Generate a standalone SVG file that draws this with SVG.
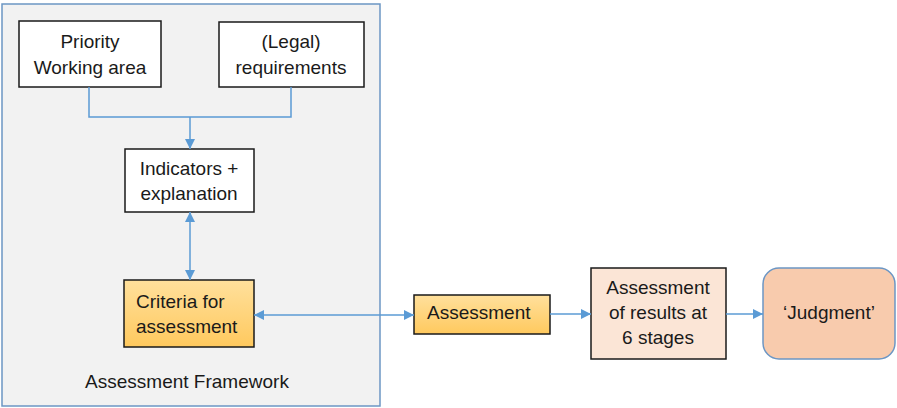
<svg xmlns="http://www.w3.org/2000/svg" width="897" height="408" viewBox="0 0 897 408">
  <style>
    .box { fill: #ffffff; stroke: #1a1a1a; stroke-width: 1.5; }
    .lbl { font-family: "Liberation Sans", Arial, sans-serif; font-size: 19px; fill: #1a1a1a; }
    .mid { text-anchor: middle; }
    .wire { fill: none; stroke: #5b9bd5; stroke-width: 1.5; }
  </style>
  <defs>
    <marker id="arr" viewBox="0 0 10 10" refX="10" refY="5" markerWidth="10" markerHeight="10" markerUnits="userSpaceOnUse" orient="auto-start-reverse">
      <path d="M0,0 L10,5 L0,10 z" fill="#5b9bd5"/>
    </marker>
    <linearGradient id="gold" x1="0" y1="0" x2="0" y2="1">
      <stop offset="0" stop-color="#ffe09c"/>
      <stop offset="1" stop-color="#ffc95e"/>
    </linearGradient>
  </defs>

  <!-- framework container -->
  <g id="framework">
    <rect x="2" y="4" width="378" height="402" fill="#f2f2f2" stroke="#6c96c4" stroke-width="1.5"/>
    <text class="lbl mid" x="187" y="388">Assessment Framework</text>
  </g>

  <g id="priority">
    <rect class="box" x="19" y="21" width="142" height="66"/>
    <text class="lbl mid" x="90" y="48">Priority</text>
    <text class="lbl mid" x="90" y="74">Working area</text>
  </g>

  <g id="legal">
    <rect class="box" x="219" y="22" width="145" height="65"/>
    <text class="lbl mid" x="291" y="48">(Legal)</text>
    <text class="lbl mid" x="291" y="74">requirements</text>
  </g>

  <g id="indicators">
    <rect class="box" x="125" y="149" width="129" height="63"/>
    <text class="lbl mid" x="189" y="175">Indicators +</text>
    <text class="lbl mid" x="189" y="200">explanation</text>
  </g>

  <g id="criteria">
    <rect x="124" y="280" width="130" height="67" fill="url(#gold)" stroke="#1a1a1a" stroke-width="1.5"/>
    <text class="lbl" x="136" y="308">Criteria for</text>
    <text class="lbl" x="136" y="333">assessment</text>
  </g>

  <g id="assessment">
    <rect x="414" y="295" width="136" height="39" fill="url(#gold)" stroke="#1a1a1a" stroke-width="1.5"/>
    <text class="lbl" x="427" y="319">Assessment</text>
  </g>

  <g id="results">
    <rect x="591" y="268" width="135" height="91" fill="#fbe5d6" stroke="#1a1a1a" stroke-width="1.5"/>
    <text class="lbl mid" x="658" y="294">Assessment</text>
    <text class="lbl mid" x="658" y="319">of results at</text>
    <text class="lbl mid" x="658" y="344">6 stages</text>
  </g>

  <g id="judgment">
    <rect x="763" y="268" width="132" height="91" rx="16" ry="16" fill="#f8cbad" stroke="#6c96c4" stroke-width="1.5"/>
    <text class="lbl mid" x="829" y="319">‘Judgment’</text>
  </g>

  <g id="connectors">
    <polyline class="wire" points="89,87 89,117 291,117 291,87"/>
    <line class="wire" x1="190" y1="117" x2="190" y2="149" marker-end="url(#arr)"/>
    <line class="wire" x1="190" y1="212" x2="190" y2="280" marker-start="url(#arr)" marker-end="url(#arr)"/>
    <line class="wire" x1="254" y1="315" x2="414" y2="315" marker-start="url(#arr)" marker-end="url(#arr)"/>
    <line class="wire" x1="550" y1="314" x2="591" y2="314" marker-end="url(#arr)"/>
    <line class="wire" x1="726" y1="314" x2="763" y2="314" marker-end="url(#arr)"/>
  </g>
</svg>
